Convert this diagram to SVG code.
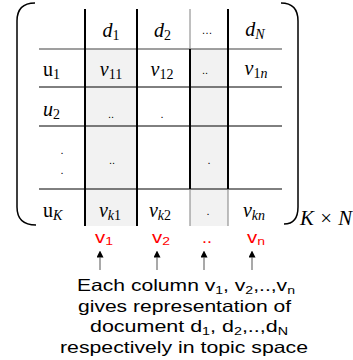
<svg xmlns="http://www.w3.org/2000/svg" width="353" height="360" viewBox="0 0 353 360">
<style>
.m{font-family:"Liberation Serif","DejaVu Serif",serif;font-style:italic;font-size:20px;fill:#000}
.up{font-style:normal}
.sb{font-size:14px}
.dot{font-family:"Liberation Sans",Arial,sans-serif;font-size:11px;fill:#000}
.red{font-family:"Liberation Sans",Arial,sans-serif;font-size:16px;fill:#ff0000}
.cap{font-family:"Liberation Sans",Arial,sans-serif;font-size:16.5px;fill:#000}
.thick{stroke:#000;stroke-width:2}
.thin{stroke:#000;stroke-width:1}
.grey{stroke:#808080;stroke-width:1}
.br{fill:none;stroke:#000;stroke-width:1.5}
.arr{stroke:#8c8c8c;stroke-width:1.5}
</style>
<defs>
<marker id="ah" markerUnits="userSpaceOnUse" markerWidth="7" markerHeight="7" viewBox="0 0 10 10" refX="0" refY="5" orient="auto">
<path d="M0,0 L10,5 L0,10 z" fill="#000"/>
</marker>
</defs>

<g id="matrix">
<rect x="85" y="49" width="52" height="177" fill="#f2f2f2"/>
<rect x="190" y="49" width="38" height="177" fill="#f2f2f2"/>
<line x1="39" y1="49" x2="282" y2="49" stroke="#7f7f7f" stroke-width="1.5"/>
<line class="thin" x1="39" y1="87" x2="282" y2="87"/>
<line class="thin" x1="39" y1="126" x2="282" y2="126"/>
<line class="thin" x1="39" y1="189" x2="282" y2="189"/>
<line class="thick" x1="85" y1="9" x2="85" y2="226"/>
<line class="thick" x1="137" y1="9" x2="137" y2="226"/>
<line class="grey" x1="190" y1="9" x2="190" y2="49"/>
<line class="thick" x1="190" y1="49" x2="190" y2="189"/>
<line class="grey" x1="190" y1="189" x2="190" y2="226"/>
<line class="thick" x1="228" y1="9" x2="228" y2="189"/>
<line class="grey" x1="228" y1="189" x2="228" y2="226"/>
<path class="br" d="M35,3 Q17,3 17,21 L17,207 Q17,225 36,225"/>
<path class="br" d="M281,3 Q298,3 298,21 L298,207 Q298,224 284,224"/>
<text class="m" x="300" y="225" textLength="52" lengthAdjust="spacingAndGlyphs">K × N</text>
</g>

<g id="cells">
<text class="m" x="111" y="37" text-anchor="middle">d<tspan class="sb up" dy="3">1</tspan></text>
<text class="m" x="162.5" y="37" text-anchor="middle">d<tspan class="sb up" dy="3">2</tspan></text>
<text class="dot" x="207" y="34" text-anchor="middle" font-size="15">…</text>
<text class="m" x="255" y="36" text-anchor="middle">d<tspan class="sb" dy="3">N</tspan></text>

<text class="m" x="43" y="76"><tspan class="up">u</tspan><tspan class="sb up" dy="3">1</tspan></text>
<text class="m" x="111" y="76" text-anchor="middle">v<tspan class="sb up" dy="3">11</tspan></text>
<text class="m" x="162" y="76" text-anchor="middle">v<tspan class="sb up" dy="3">12</tspan></text>
<text class="dot" x="205" y="74" text-anchor="middle">..</text>
<text class="m" x="256" y="75" text-anchor="middle">v<tspan class="sb up" dy="3">1</tspan><tspan class="sb" >n</tspan></text>

<text class="m" x="43" y="116">u<tspan class="sb up" dy="3">2</tspan></text>
<text class="dot" x="111" y="118" text-anchor="middle">..</text>
<text class="dot" x="162" y="118" text-anchor="middle">.</text>

<text class="dot" x="62" y="154" text-anchor="middle" font-size="13">.</text>
<text class="dot" x="62" y="174" text-anchor="middle" font-size="13">.</text>
<text class="dot" x="112" y="164" text-anchor="middle">..</text>
<text class="dot" x="209" y="164" text-anchor="middle">.</text>

<text class="m" x="43" y="217"><tspan class="up">u</tspan><tspan class="sb" dy="3">K</tspan></text>
<text class="m" x="110" y="217" text-anchor="middle">v<tspan class="sb" dy="3">k</tspan><tspan class="sb up">1</tspan></text>
<text class="m" x="160" y="217" text-anchor="middle">v<tspan class="sb" dy="3">k</tspan><tspan class="sb up">2</tspan></text>
<text class="dot" x="208" y="215" text-anchor="middle">.</text>
<text class="m" x="254" y="217" text-anchor="middle">v<tspan class="sb" dy="3">kn</tspan></text>
</g>

<g id="labels">
<text class="red" x="104" y="243" text-anchor="middle" textLength="18" lengthAdjust="spacingAndGlyphs">v<tspan font-size="11" dy="2">1</tspan></text>
<text class="red" x="161" y="243" text-anchor="middle" textLength="18" lengthAdjust="spacingAndGlyphs">v<tspan font-size="11" dy="2">2</tspan></text>
<text class="red" x="207" y="243" text-anchor="middle" textLength="10" lengthAdjust="spacingAndGlyphs">..</text>
<text class="red" x="256" y="243" text-anchor="middle" textLength="18" lengthAdjust="spacingAndGlyphs">v<tspan font-size="11" dy="2">n</tspan></text>
</g>

<g id="connectors">
<line class="arr" x1="100" y1="270" x2="100" y2="257.5" marker-end="url(#ah)"/>
<line class="arr" x1="157" y1="270" x2="157" y2="257.5" marker-end="url(#ah)"/>
<line class="arr" x1="204" y1="270" x2="204" y2="257.5" marker-end="url(#ah)"/>
<line class="arr" x1="252" y1="270" x2="252" y2="257.5" marker-end="url(#ah)"/>
</g>

<g id="caption">
<text class="cap" x="186" y="291" text-anchor="middle" textLength="218" lengthAdjust="spacingAndGlyphs">Each column v<tspan font-size="11" dy="3">1</tspan><tspan dy="-3">, v</tspan><tspan font-size="11" dy="3">2</tspan><tspan dy="-3">,..,v</tspan><tspan font-size="11" dy="3">n</tspan></text>
<text class="cap" x="184.5" y="311.5" text-anchor="middle" textLength="213" lengthAdjust="spacingAndGlyphs">gives representation of</text>
<text class="cap" x="189" y="332" text-anchor="middle" textLength="198" lengthAdjust="spacingAndGlyphs">document d<tspan font-size="11" dy="3">1</tspan><tspan dy="-3">, d</tspan><tspan font-size="11" dy="3">2</tspan><tspan dy="-3">,..,d</tspan><tspan font-size="11" dy="3">N</tspan></text>
<text class="cap" x="184" y="352.5" text-anchor="middle" textLength="248" lengthAdjust="spacingAndGlyphs">respectively in topic space</text>
</g>
</svg>
